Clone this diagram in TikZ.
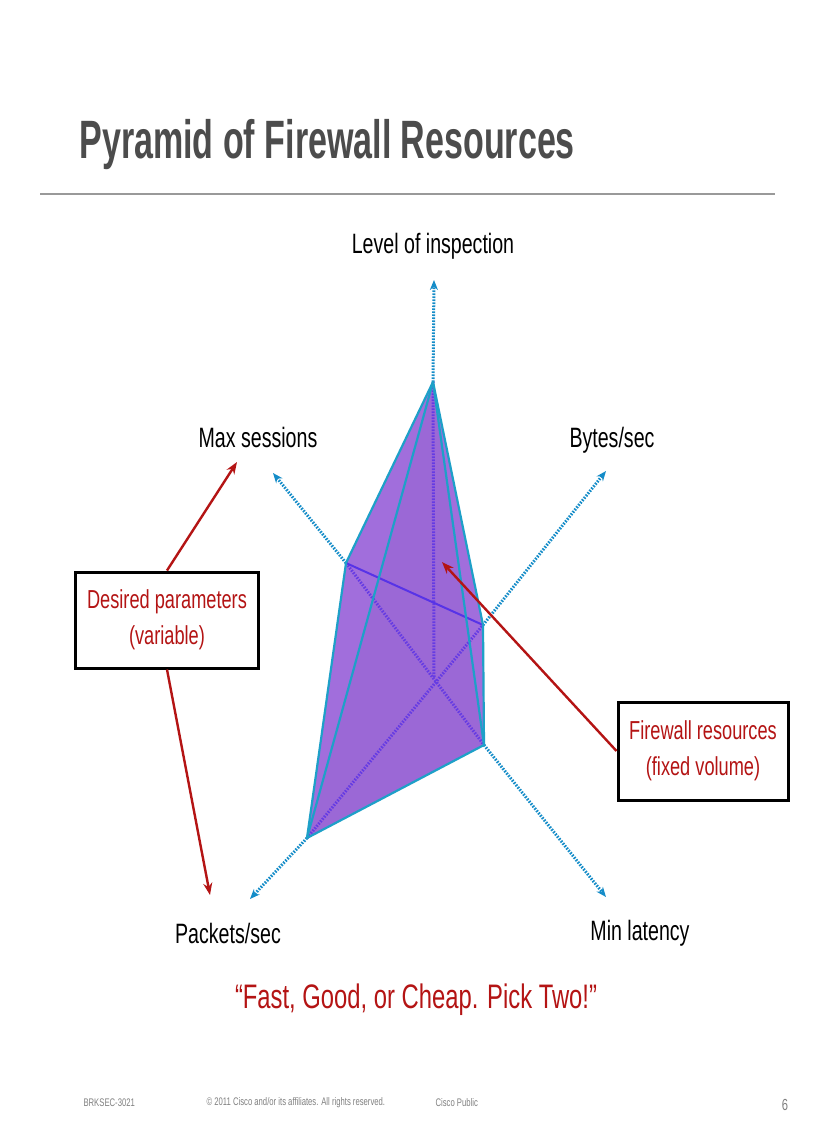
\documentclass[tikz,border=0pt]{standalone}
\usepackage{fontspec}
\setmainfont{Liberation Sans}[FakeStretch=0.7]
\newfontfamily\titlefont{Liberation Sans}[FakeStretch=0.63]
\usetikzlibrary{arrows.meta}
\definecolor{axisblue}{RGB}{20,140,200}
\definecolor{edgeblue}{RGB}{30,160,200}
\definecolor{pyr}{RGB}{145,85,215}
\definecolor{dred}{RGB}{180,20,20}
\tikzset{
 axis/.style={axisblue,line width=3pt,dash pattern=on 1.6pt off 1.4pt,-{Stealth[length=10pt,width=8pt]}},
 edge/.style={edgeblue,line width=2.2pt,line join=round},
 hidden/.style={pyr!70!blue,line width=3pt,dash pattern=on 1.6pt off 1.4pt},
 lbl/.style={font=\fontsize{28}{30}\selectfont},
 redarrow/.style={dred,line width=2.4pt,-{Stealth[length=12pt,width=9pt]}},
 rbox/.style={draw=black,line width=3pt,fill=white,align=center,text=dred,font=\fontsize{26}{36}\selectfont}
}
\begin{document}
\begin{tikzpicture}[x=1pt,y=-1pt]
\useasboundingbox[fill=white] (0,0) rectangle (816,1123);
\node[anchor=west,text=black!70,font=\titlefont\bfseries\fontsize{54}{56}\selectfont] (title) at (76,145) {Pyramid of Firewall Resources};
\draw[black!40,line width=2pt] (40,194) -- (775,194);
% vertices
\coordinate (O) at (434,677);
\coordinate (T) at (433,382);
\coordinate (M) at (346,563);
\coordinate (R) at (483,625);
\coordinate (L) at (484,745);
\coordinate (P) at (307,838);
\coordinate (aU) at (434,280);
\coordinate (aM) at (273,473);
\coordinate (aB) at (606,471);
\coordinate (aL) at (606,897);
\coordinate (aP) at (250,899);
% axes outside
\draw[axis] (T) -- (aU);
\draw[axis] (M) -- (aM);
\draw[axis] (R) -- (aB);
\draw[axis] (L) -- (aL);
\draw[axis] (P) -- (aP);
% pyramid fill
\fill[pyr,opacity=0.85] (T) -- (M) -- (P) -- (L) -- (R) -- cycle;
\fill[pyr!80!black,opacity=0.12] (T) -- (P) -- (L) -- cycle;
% hidden
\draw[hidden] (O) -- (T);
\draw[hidden] (M) -- (L);
\draw[hidden] (P) -- (R);
\draw[pyr!60!blue,line width=2pt] (M) -- (R);
% edges
\draw[edge] (M) -- (T) -- (R) -- (L) -- (P) -- cycle;
\draw[edge] (T) -- (P);
\draw[edge] (T) -- (L);
% labels
\node[lbl] (lLev) at (433,246) {Level of inspection};
\node[lbl] (lMax) at (258,437) {Max sessions};
\node[lbl] (lByt) at (612,440) {Bytes/sec};
\node[lbl] (lPac) at (228,933) {Packets/sec};
\node[lbl] (lMin) at (640,933) {Min latency};
\node[text=dred,font=\fontsize{34}{36}\selectfont] (quote) at (416,1000) {“Fast, Good, or Cheap. Pick Two!”};
% boxes
\node[rbox,minimum width=183pt,minimum height=96pt] (desired) at (167,620) {Desired parameters\\(variable)};
\node[rbox,minimum width=170pt,minimum height=98pt] (fw) at (703,751) {Firewall resources\\(fixed volume)};
\coordinate (tMax) at (237,462);
\coordinate (tPac) at (210,895);
\coordinate (tIn) at (442,562);
\draw[redarrow] (desired.north) -- (tMax);
\draw[redarrow] (desired.south) -- (tPac);
\draw[redarrow] (fw.west) -- (tIn);
% footer
\node[anchor=west,text=black!50,font=\fontsize{11}{12}\selectfont] (f1) at (80,1103) {BRKSEC-3021};
\node[anchor=west,text=black!50,font=\fontsize{11}{12}\selectfont] (f2) at (203,1103) {© 2011 Cisco and/or its affiliates. All rights reserved.};
\node[anchor=west,text=black!50,font=\fontsize{11}{12}\selectfont] (f3) at (432,1103) {Cisco Public};
\node[text=black!50,font=\fontsize{16}{18}\selectfont] (f4) at (785,1105) {6};
\end{tikzpicture}
\end{document}
